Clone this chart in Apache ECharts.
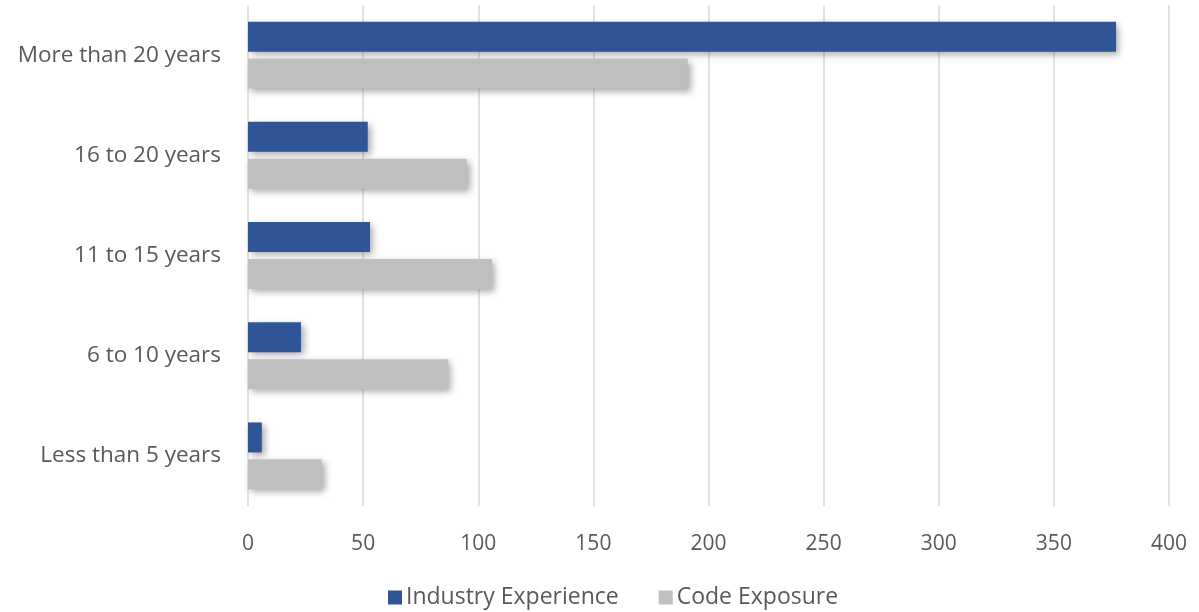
<!DOCTYPE html>
<html><head><meta charset="utf-8">
<script src="https://cdn.jsdelivr.net/npm/echarts@6/dist/echarts.min.js"></script>
<style>html,body{margin:0;padding:0;background:#fff}#c{width:1199px;height:612px}</style>
</head><body><div id="c"></div>
<script>
const categories = ['Less than 5 years','6 to 10 years','11 to 15 years','16 to 20 years','More than 20 years'];
const industryExperience = [6, 23, 53, 52, 377];
const codeExposure = [32, 87, 106, 95, 191];
const xTicks = {min: 0, max: 400, interval: 50};

const font = 'Open Sans';
const chart = echarts.init(document.getElementById('c'), null, {renderer: 'canvas'});
const shadow = {shadowBlur: 7, shadowOffsetX: 3, shadowOffsetY: 3, shadowColor: 'rgba(0,0,0,0.35)'};
chart.setOption({
  animation: false,
  textStyle: {fontFamily: font},
  grid: {left: 248, right: 30, top: 5, bottom: 106, containLabel: false},
  legend: {
    data: ['Industry Experience', 'Code Exposure'],
    top: 581, left: 383, itemWidth: 14, itemHeight: 14, itemGap: 40,
    icon: 'rect',
    textStyle: {color: '#595959', fontSize: 23, fontFamily: font, padding: [0, 0, 0, -1]}
  },
  xAxis: {
    type: 'value', min: xTicks.min, max: xTicks.max, interval: xTicks.interval,
    axisLine: {show: false}, axisTick: {show: false},
    splitLine: {lineStyle: {color: '#D9D9D9', width: 1.5}},
    axisLabel: {color: '#595959', fontSize: 21, margin: 28, fontFamily: font}
  },
  yAxis: {
    type: 'category', data: categories,
    axisLine: {show: false}, axisTick: {show: false},
    axisLabel: {color: '#595959', fontSize: 22.5, margin: 27, fontFamily: font}
  },
  series: [
    {name: 'Industry Experience', type: 'bar', data: industryExperience, barWidth: 30, barGap: '23%',
     itemStyle: Object.assign({color: '#2F5597'}, shadow)},
    {name: 'Code Exposure', type: 'bar', data: codeExposure, barWidth: 30, barGap: '23%',
     itemStyle: Object.assign({color: '#BFBFBF'}, shadow)}
  ]
});
</script></body></html>
